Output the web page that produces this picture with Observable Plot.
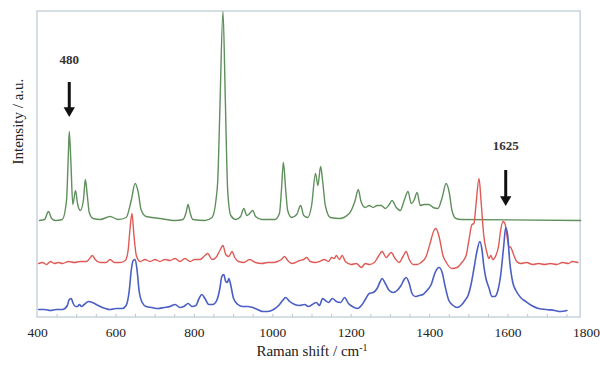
<!DOCTYPE html>
<html>
<head>
<meta charset="utf-8">
<script src="https://cdn.jsdelivr.net/npm/d3@7"></script>
<script src="https://cdn.jsdelivr.net/npm/@observablehq/plot@0.6"></script>
<style>
  html, body { margin: 0; padding: 0; background: #fff; }
  #chart svg { display: block; }
  #chart svg text { font-family: 'Liberation Serif', 'Times New Roman', serif !important; font-variant: normal !important; }
</style>
</head>
<body>
<div id="chart"></div>
<script>
// ---- Data (Raman shift in cm^-1, intensity in arbitrary units) ----
const greenX = [405,418,428,436,446,463,474,479,481,485,490,497,502,509,517,522,527,532,542,560,585,606,626,639,649,657,664,677,712,751,771,779,784,789,796,827,845,855,860,865,873,879,885,893,906,918,926,934,941,949,956,972,1005,1017,1022,1027,1033,1038,1048,1061,1071,1079,1089,1099,1109,1115,1122,1127,1134,1147,1170,1195,1210,1218,1225,1236,1246,1256,1266,1277,1287,1297,1304,1315,1325,1335,1345,1353,1360,1368,1376,1386,1398,1409,1421,1432,1442,1450,1457,1467,1480,1785];
const greenY = [97,98,106,99,97,98,117,167,186,157,113,127,114,107,117,138,122,105,99,98,101,98,100,117,134,125,108,101,99,97,98,105,113,105,98,97,100,117,140,207,306,217,127,102,98,101,109,102,104,107,101,98,98,104,127,155,127,107,100,103,112,102,100,112,144,132,151,137,112,100,99,104,117,128,116,110,112,110,112,112,109,113,117,110,107,117,126,114,117,125,112,113,113,110,109,120,134,125,107,99,98,97];

const redX = [403,413,423,433,443,453,464,479,494,509,525,535,540,547,560,575,585,596,611,624,631,636,641,646,652,662,674,687,700,712,725,738,751,763,776,789,801,814,827,834,845,855,865,873,880,888,896,903,913,926,941,956,972,987,1002,1012,1022,1030,1038,1048,1058,1068,1079,1086,1096,1109,1119,1132,1142,1150,1157,1162,1170,1177,1185,1200,1213,1226,1236,1246,1259,1269,1279,1289,1302,1312,1322,1332,1340,1348,1358,1368,1378,1391,1401,1411,1416,1424,1434,1444,1457,1470,1482,1493,1500,1508,1513,1518,1526,1531,1538,1546,1551,1556,1561,1569,1576,1581,1587,1592,1597,1602,1607,1615,1622,1632,1647,1663,1678,1693,1708,1724,1739,1754,1764,1778];
const redY = [54,55,53,56,54,55,54,56,55,56,56,60,62,58,55,55,58,55,55,57,67,89,104,82,62,56,58,56,58,56,58,57,59,56,59,56,58,58,62,64,58,60,67,72,63,61,66,60,56,55,58,55,54,55,55,56,58,61,57,54,55,57,58,60,56,55,56,58,56,60,59,62,58,62,56,53,54,50,54,53,55,61,66,60,65,59,55,61,66,58,53,53,55,61,74,87,89,81,62,54,49,50,55,62,77,93,94,112,139,117,82,65,59,62,58,62,72,87,96,94,82,71,70,62,56,54,55,53,54,53,54,53,55,54,56,55];

const blueX = [403,418,433,448,464,476,481,486,491,497,502,507,512,519,530,540,550,560,573,585,601,616,626,634,639,644,649,654,659,667,677,692,707,723,738,751,763,773,784,794,804,812,819,827,837,847,857,865,870,875,880,884,888,893,900,911,923,936,949,961,974,987,1002,1015,1025,1033,1043,1056,1068,1081,1091,1101,1111,1119,1127,1134,1142,1152,1162,1173,1183,1193,1203,1216,1226,1236,1246,1256,1266,1274,1279,1287,1297,1307,1317,1327,1335,1340,1348,1355,1363,1373,1383,1393,1404,1414,1424,1432,1439,1449,1460,1470,1480,1490,1498,1505,1513,1521,1528,1533,1538,1543,1551,1559,1566,1574,1581,1589,1594,1599,1604,1612,1620,1632,1645,1660,1678,1698,1719,1734,1750];
const blueY = [8,8,7,8,8,12,18,19,14,11,11,13,11,13,16,15,13,11,9,8,9,9,12,27,47,57,58,47,27,15,11,10,9,10,11,13,10,11,14,11,12,19,23,19,13,13,17,29,41,43,36,35,39,32,19,13,11,11,10,8,6,6,8,12,17,20,16,13,12,13,11,13,15,12,19,17,15,19,16,15,20,14,11,9,12,18,24,25,29,36,39,34,27,25,27,32,38,40,34,24,21,22,23,27,33,45,50,45,32,17,12,10,12,17,22,32,49,67,76,69,52,40,30,21,21,27,42,72,90,82,57,35,27,20,16,12,9,8,7,6,7];

const xTicks = [400, 600, 800, 1000, 1200, 1400, 1600, 1800];
const minorTicks = d3.range(450, 1785, 50);
const xMin = 400, xMax = 1800, frameXMax = 1785;
const yMin = 0, yMax = 306;

const annotX = [481, 1594];
const annotLabels = ["480", "1625"];
const annotTextY = [258, 172];
const annotTopY = [235, 147];
const annotHeadY = [207, 118];

const seriesColors = { green: "#5f8f5c", red: "#df5a55", blue: "#4a5ec4" };
const frameColor = "#b9c9d1";

// ---- Build tidy rows ----
function rows(xs, ys, name) { return xs.map((x, i) => ({ x, y: ys[i], series: name })); }
const green = rows(greenX, greenY, "green");
const red = rows(redX, redY, "red");
const blue = rows(blueX, blueY, "blue");
const annots = annotX.map((x, i) => ({ x, label: annotLabels[i], ty: annotTextY[i], top: annotTopY[i], head: annotHeadY[i] }));

const font = "'Liberation Serif', 'Times New Roman', serif";

const chart = Plot.plot({
  width: 600,
  height: 369,
  marginLeft: 37,
  marginRight: 14,
  marginTop: 11,
  marginBottom: 52,
  style: { fontFamily: font, fontSize: "13px", color: "#222", background: "#fff" },
  x: { domain: [xMin, xMax] },
  y: { domain: [yMin, yMax], axis: null },
  marks: [
    Plot.rect([0], { x1: xMin, x2: frameXMax, y1: yMin, y2: yMax, fill: "none", stroke: frameColor, strokeWidth: 1.2 }),
    Plot.ruleX(minorTicks, { x: d => d, y1: 0, y2: 3, stroke: frameColor, strokeWidth: 1 }),
    Plot.line(green, { x: "x", y: "y", stroke: seriesColors.green, strokeWidth: 1.4, curve: "monotone-x" }),
    Plot.line(red, { x: "x", y: "y", stroke: seriesColors.red, strokeWidth: 1.4, curve: "monotone-x" }),
    Plot.line(blue, { x: "x", y: "y", stroke: seriesColors.blue, strokeWidth: 1.6, curve: "monotone-x" }),
    Plot.axisX({ ticks: xTicks, tickSize: 0, tickPadding: 10, label: null, fontSize: 13.5, fontFamily: font, fill: "#222", tickFormat: d => String(d) }),
    Plot.ruleX(annots, { x: "x", y1: "top", y2: "head", stroke: "#111", strokeWidth: 3 }),
    Plot.dot(annots, { x: "x", y: "head", symbol: "triangle", r: 4.2, fill: "#111", stroke: "none", rotate: 180 }),
    Plot.text(annots, { x: "x", y: "ty", text: "label", fontSize: 13, fontWeight: "bold", fill: "#333", fontFamily: font }),
    Plot.text(["Intensity / a.u."], { frameAnchor: "left", dx: -19, rotate: -90, fontSize: 15, fill: "#222", fontFamily: font }),
    Plot.text(["Raman shift / cm"], { frameAnchor: "bottom", dy: 38, fontSize: 15, fill: "#222", fontFamily: font })
  ]
});

// add superscript -1 to the x-axis title
d3.select(chart).selectAll("text").each(function() {
  const t = d3.select(this);
  if (t.text() === "Raman shift / cm") {
    t.append("tspan").attr("dy", "-0.45em").attr("font-size", "10px").text("-1");
  }
});

document.getElementById("chart").appendChild(chart);
</script>
</body>
</html>
